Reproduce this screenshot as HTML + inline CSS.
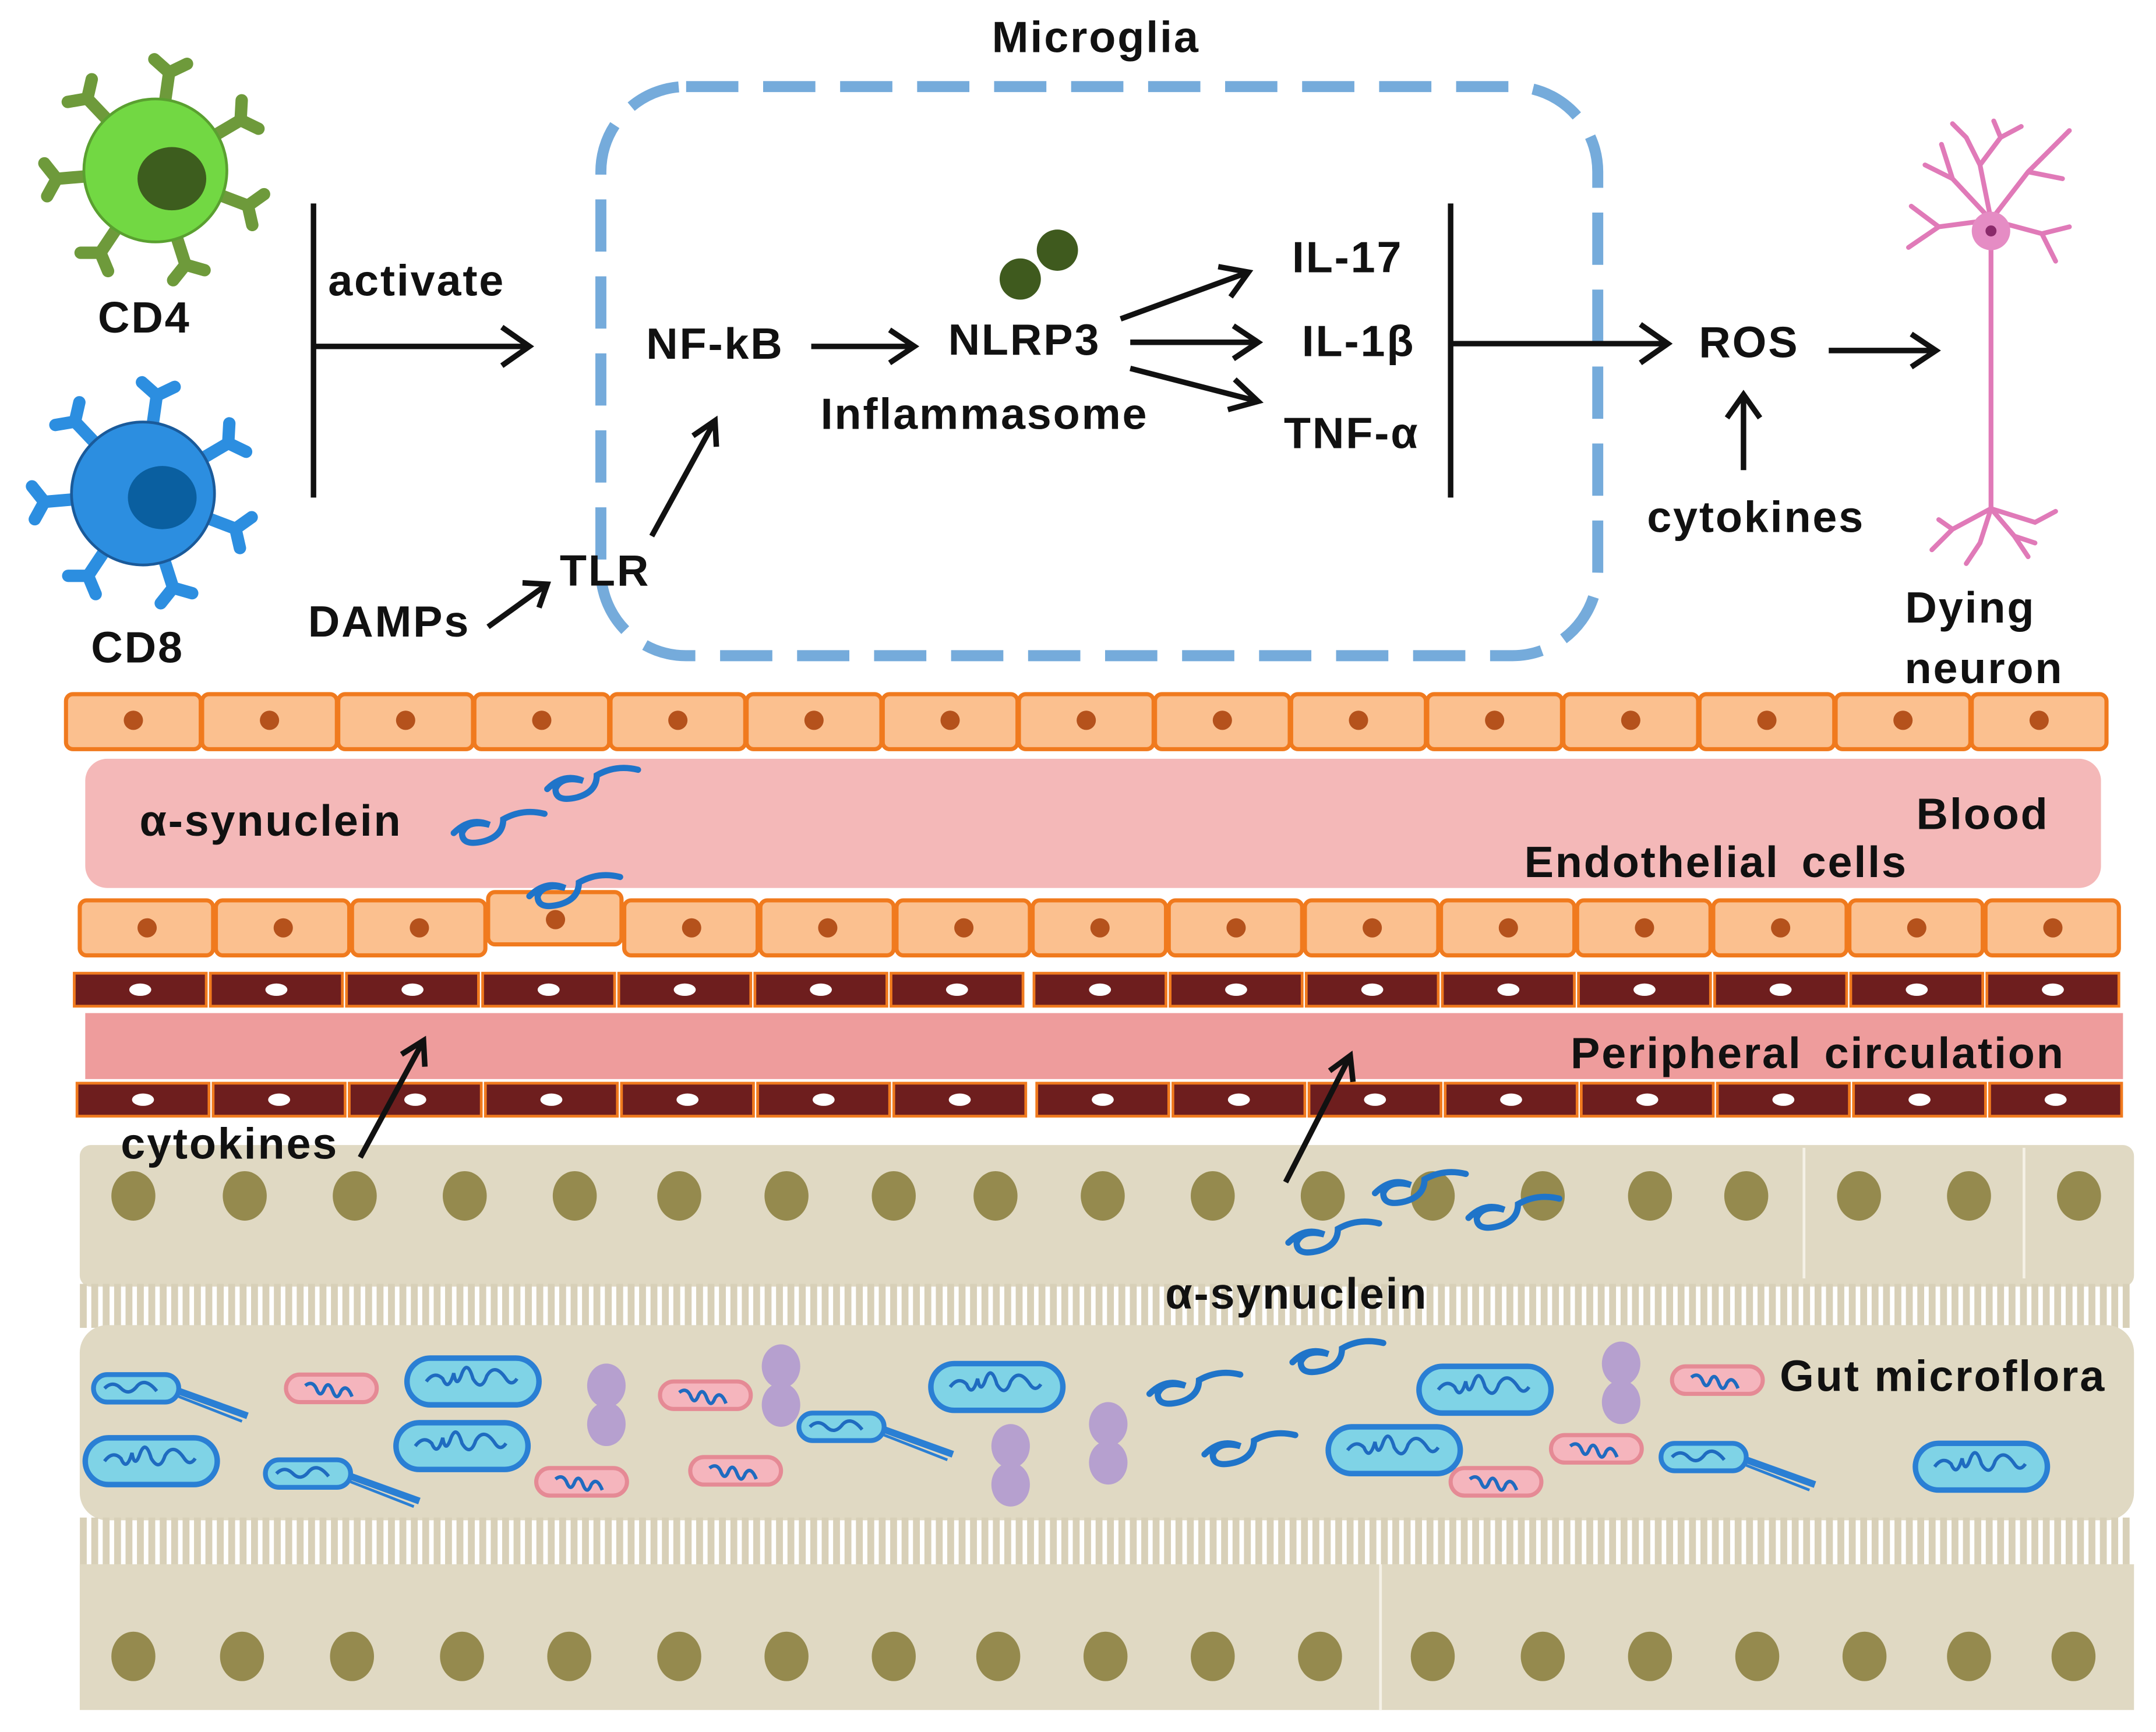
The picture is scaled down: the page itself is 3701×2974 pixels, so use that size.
<!DOCTYPE html>
<html><head><meta charset="utf-8"><style>
html,body{margin:0;padding:0;background:#fff}
svg{display:block}
text{font-family:"Liberation Sans",sans-serif;font-weight:bold;fill:#111;letter-spacing:1.2px}
</style></head><body>
<svg id="s" width="3701" height="2974" viewBox="0 0 1568 1260" preserveAspectRatio="none" xmlns="http://www.w3.org/2000/svg">
<defs>
<pattern id="vil" width="8.3" height="10" patternUnits="userSpaceOnUse"><rect x="0" y="0" width="5" height="10" fill="#d8d0b8"/></pattern>
<g id="syn"><path d="M0,16 q12,-12 26,-6 q-16,-4 -20,6 q0,10 16,6 q14,-4 14,-16 q14,-8 30,-4" fill="none" stroke="#1f74c9" stroke-width="4.5" stroke-linecap="round"/></g>
<g id="bb"><rect x="0" y="0" width="96" height="34" rx="17" fill="#7fd3e6" stroke="#2a7fd4" stroke-width="4"/><path d="M14,17 q6,-8 12,-2 q4,10 8,-4 q2,12 6,0 q4,-10 8,4 q6,10 10,-2 q6,-10 14,2 q4,6 8,0" fill="none" stroke="#1f6bc0" stroke-width="2.5"/></g>
<g id="pb"><rect x="0" y="0" width="66" height="20" rx="10" fill="#f5b5bd" stroke="#e58a95" stroke-width="3"/><path d="M14,8 q5,-4 8,2 q3,8 6,0 q3,-6 6,2 q3,8 6,0 q4,-6 8,4" fill="none" stroke="#1f6bc0" stroke-width="2.5"/></g>
<g id="fb"><rect x="0" y="0" width="62" height="20" rx="10" fill="#7fd3e6" stroke="#2a7fd4" stroke-width="3.5"/><path d="M8,10 q6,-6 12,0 q6,6 12,-2 q6,-6 14,4" fill="none" stroke="#1f6bc0" stroke-width="2.5"/><path d="M62,12 L112,30" stroke="#2a7fd4" stroke-width="5"/><path d="M62,16 L108,34" stroke="#2a7fd4" stroke-width="2"/></g>
<g id="pp"><ellipse cx="0" cy="-14" rx="14" ry="16" fill="#b6a0cf"/><ellipse cx="0" cy="14" rx="14" ry="16" fill="#b6a0cf"/></g>
</defs>

<!-- gut region -->
<rect x="58" y="833" width="1494" height="103" rx="8" fill="#e0d9c3"/>
<rect x="58" y="934" width="1494" height="32" fill="url(#vil)"/>
<rect x="58" y="964" width="1494" height="142" rx="20" fill="#e0d9c3"/>
<rect x="58" y="1104" width="1494" height="36" fill="url(#vil)"/>
<rect x="58" y="1138" width="1494" height="106" fill="#e0d9c3"/>
<g id="gut"></g>

<!-- bands -->
<rect x="62" y="552" width="1466" height="94" rx="16" fill="#f4b8b8"/>
<rect x="62" y="737" width="1482" height="48" fill="#ee9c9c"/>
<g id="cells"></g>

<!-- dashed microglia -->
<rect x="437" y="63" width="725" height="414" rx="62" fill="none" stroke="#75abdb" stroke-width="8" stroke-dasharray="38 18"/>
<text x="797" y="38" font-size="32" text-anchor="middle">Microglia</text>

<g id="rec4"></g>
<circle cx="113" cy="124" r="52" fill="#72d843" stroke="#5aa030" stroke-width="2"/>
<ellipse cx="125" cy="130" rx="25" ry="23" fill="#3d5d1e"/>
<text x="105" y="242" font-size="32" text-anchor="middle">CD4</text>
<g id="rec8"></g>
<circle cx="104" cy="359" r="52" fill="#2c8ee0" stroke="#1a5a9a" stroke-width="2"/>
<ellipse cx="118" cy="362" rx="25" ry="23" fill="#0a5fa0"/>
<text x="100" y="482" font-size="32" text-anchor="middle">CD8</text>

<g stroke="#111" stroke-width="4" fill="none">
<line x1="228" y1="148" x2="228" y2="362"/>
<line x1="228" y1="252" x2="385" y2="252"/><path d="M365,238 L385,252 L365,266"/>
<line x1="590" y1="252" x2="665" y2="252"/><path d="M647,240 L665,252 L647,264"/>
<line x1="815" y1="232" x2="908" y2="198"/><path d="M886,194 L908,198 L895,216"/>
<line x1="822" y1="249" x2="915" y2="249"/><path d="M897,237 L915,249 L897,261"/>
<line x1="822" y1="268" x2="915" y2="292"/><path d="M898,276 L915,292 L893,298"/>
<line x1="1055" y1="148" x2="1055" y2="362"/>
<line x1="1055" y1="250" x2="1213" y2="250"/><path d="M1193,236 L1213,250 L1193,264"/>
<line x1="1330" y1="255" x2="1408" y2="255"/><path d="M1390,243 L1408,255 L1390,267"/>
<line x1="1268" y1="342" x2="1268" y2="287"/><path d="M1256,304 L1268,287 L1280,304"/>
<line x1="355" y1="456" x2="398" y2="425"/><path d="M380,424 L398,425 L392,442"/>
<line x1="474" y1="390" x2="520" y2="306"/><path d="M504,317 L520,306 L521,325"/>
<line x1="262" y1="842" x2="308" y2="757"/><path d="M292,767 L308,757 L309,776"/>
<line x1="935" y1="860" x2="982" y2="768"/><path d="M967,779 L982,768 L984,787"/>
</g>

<text x="303" y="215" font-size="32" text-anchor="middle">activate</text>
<text x="520" y="261" font-size="32" text-anchor="middle">NF-kB</text>
<text x="745" y="258" font-size="32" text-anchor="middle">NLRP3</text>
<text x="716" y="312" font-size="32" text-anchor="middle">Inflammasome</text>
<circle cx="742" cy="203" r="15" fill="#3f5a1e"/><circle cx="769" cy="182" r="15" fill="#3f5a1e"/>
<text x="980" y="198" font-size="32" text-anchor="middle">IL-17</text>
<text x="988" y="259" font-size="32" text-anchor="middle">IL-1β</text>
<text x="983" y="326" font-size="32" text-anchor="middle">TNF-α</text>
<text x="1272" y="260" font-size="32" text-anchor="middle">ROS</text>
<text x="1277" y="387" font-size="32" text-anchor="middle">cytokines</text>
<text x="1433" y="453" font-size="32" text-anchor="middle">Dying</text>
<text x="1443" y="497" font-size="32" text-anchor="middle">neuron</text>
<text x="283" y="463" font-size="32" text-anchor="middle">DAMPs</text>
<text x="440" y="426" font-size="32" text-anchor="middle">TLR</text>

<!-- neuron -->
<g stroke="#e07ab8" stroke-width="3.5" fill="none" stroke-linecap="round">
<path d="M1448,170 L1448,370"/>
<path d="M1448,160 L1420,130 L1400,120 M1420,130 L1412,105 M1448,160 L1440,120 L1430,100 M1440,120 L1455,100 L1450,88 M1448,160 L1475,125 L1490,110 M1475,125 L1500,130 M1490,110 L1505,95 M1448,160 L1410,165 L1390,150 M1410,165 L1388,180 M1448,160 L1485,170 L1505,165 M1485,170 L1495,190 M1430,100 L1420,90 M1455,100 L1470,92"/>
<path d="M1448,370 L1420,385 L1405,400 M1420,385 L1410,378 M1448,370 L1440,395 L1430,410 M1448,370 L1465,390 L1475,405 M1448,370 L1480,380 L1495,372 M1465,390 L1480,395"/>
</g>
<circle cx="1448" cy="168" r="14" fill="#e58cc4"/><circle cx="1448" cy="168" r="4" fill="#8a2a6a"/>

<use href="#syn" transform="translate(398,558)"/>
<use href="#syn" transform="translate(330,590)"/>
<use href="#syn" transform="translate(385,636)"/>
<use href="#syn" transform="translate(1000,852)"/>
<use href="#syn" transform="translate(1068,870)"/>
<use href="#syn" transform="translate(937,888)"/>
<use href="#syn" transform="translate(836,998)"/>
<use href="#syn" transform="translate(940,975)"/>
<use href="#syn" transform="translate(876,1042)"/>

<use href="#fb" transform="translate(68,1000)"/>
<use href="#bb" transform="translate(62,1046)"/>
<use href="#pb" transform="translate(208,1000)"/>
<use href="#fb" transform="translate(193,1062)"/>
<use href="#bb" transform="translate(296,988)"/>
<use href="#bb" transform="translate(288,1035)"/>
<use href="#pp" transform="translate(441,1022)"/>
<use href="#pb" transform="translate(390,1068)"/>
<use href="#pb" transform="translate(480,1005)"/>
<use href="#pb" transform="translate(502,1060)"/>
<use href="#pp" transform="translate(568,1008)"/>
<use href="#fb" transform="translate(581,1028)"/>
<use href="#bb" transform="translate(677,992)"/>
<use href="#pp" transform="translate(735,1066)"/>
<use href="#pp" transform="translate(806,1050)"/>
<use href="#bb" transform="translate(1032,994)"/>
<use href="#bb" transform="translate(966,1038)"/>
<use href="#pb" transform="translate(1055,1068)"/>
<use href="#pb" transform="translate(1128,1044)"/>
<use href="#pp" transform="translate(1179,1006)"/>
<use href="#pb" transform="translate(1216,994)"/>
<use href="#fb" transform="translate(1208,1050)"/>
<use href="#bb" transform="translate(1393,1050)"/>

<text x="197" y="608" font-size="32" text-anchor="middle">α-synuclein</text>
<text x="1442" y="603" font-size="32" text-anchor="middle">Blood</text>
<text x="1248" y="638" font-size="32" text-anchor="middle" word-spacing="6">Endothelial cells</text>
<text x="1322" y="777" font-size="32" text-anchor="middle" word-spacing="6">Peripheral circulation</text>
<text x="167" y="843" font-size="32" text-anchor="middle">cytokines</text>
<text x="943" y="952" font-size="32" text-anchor="middle">α-synuclein</text>
<text x="1413" y="1012" font-size="32" text-anchor="middle">Gut microflora</text>
</svg>
<script>
var NS="http://www.w3.org/2000/svg";
function el(p,t,a){var e=document.createElementNS(NS,t);for(var k in a)e.setAttribute(k,a[k]);p.appendChild(e);return e;}
var c=document.getElementById("cells");
for(var i=0;i<15;i++){var x=48+i*99;el(c,"rect",{x:x,y:505,width:98,height:40,rx:5,fill:"#fbc08f",stroke:"#f07a1e","stroke-width":3});el(c,"circle",{cx:x+49,cy:524,r:7,fill:"#b5521c"});}
for(var i=0;i<15;i++){var x=58+i*99;var y=655;if(i==3){y=649;}el(c,"rect",{x:x,y:y,width:97,height:i==3?38:40,rx:5,fill:"#fbc08f",stroke:"#f07a1e","stroke-width":3});el(c,"circle",{cx:x+49,cy:y+20,r:7,fill:"#b5521c"});}
[[708,54],[788,56]].forEach(function(r){for(var i=0;i<15;i++){var x=r[1]+i*99+(i>=7?5:0);el(c,"rect",{x:x,y:r[0],width:96,height:24,fill:"#6e1e1e",stroke:"#f07a1e","stroke-width":2});el(c,"ellipse",{cx:x+48,cy:r[0]+12,rx:8,ry:4.5,fill:"#fff"});}});
var g=document.getElementById("gut");
var xs=[97,178,258,338,418,494,572,650,724,802,882,962,1042,1122,1200,1270,1352,1432,1512];
xs.forEach(function(x){el(g,"ellipse",{cx:x,cy:870,rx:16,ry:18,fill:"#958a4e"});});
[1312,1472].forEach(function(x){el(g,"line",{x1:x,y1:835,x2:x,y2:930,stroke:"#f5f1e6","stroke-width":2});});
el(g,"line",{x1:1004,y1:1138,x2:1004,y2:1244,stroke:"#f5f1e6","stroke-width":2});
var xs2=[97,176,256,336,414,494,572,650,726,804,882,960,1042,1122,1200,1278,1356,1432,1508];
xs2.forEach(function(x){el(g,"ellipse",{cx:x,cy:1205,rx:16,ry:18,fill:"#958a4e"});});
function rec(id,cx,cy,r,col){var gg=document.getElementById(id);for(var k=0;k<7;k++){var a=-90+k*360/7+8;var rad=a*Math.PI/180;var x1=cx+Math.cos(rad)*r,y1=cy+Math.sin(rad)*r,x2=cx+Math.cos(rad)*(r+22),y2=cy+Math.sin(rad)*(r+22);
el(gg,"line",{x1:x1,y1:y1,x2:x2,y2:y2,stroke:col,"stroke-width":9});
var px=-Math.sin(rad),py=Math.cos(rad);
el(gg,"path",{d:"M"+(x2+px*12+Math.cos(rad)*8)+","+(y2+py*12+Math.sin(rad)*8)+" L"+x2+","+y2+" L"+(x2-px*12+Math.cos(rad)*8)+","+(y2-py*12+Math.sin(rad)*8),stroke:col,"stroke-width":9,fill:"none","stroke-linecap":"round"});}}
rec("rec4",113,124,50,"#6e9a3b");rec("rec8",104,359,50,"#2c8ee0");
</script>
</body></html>
